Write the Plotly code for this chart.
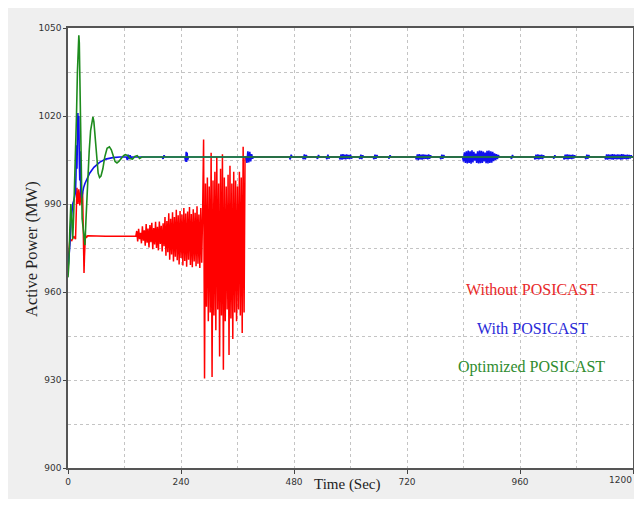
import plotly.graph_objects as go

# ---------------- data ----------------
# Without POSICAST (red)
red_t_start = [0, 4, 8, 12, 16, 18, 19, 21, 23, 25, 27, 29, 31, 32, 33, 34, 35, 37, 39, 42, 80, 120, 144]
red_v_start = [970, 978, 977.5, 979, 978, 990, 995.5, 990, 995, 989.5, 994.5, 990, 994, 985, 975, 966.5,
               972, 979.5, 978.5, 979.2, 979, 979, 979]
# growing oscillation, sampled every 2 s from t = 146 s
red_osc1_t0 = 146
red_osc1 = [980.8, 977.2, 981.5, 978, 980.2, 976.6, 982.4, 977.5, 981, 975.8, 983.2, 976.8, 981.6,
            975.2, 982.8, 977, 983.6, 974.6, 981.8, 976.2, 983.9, 975, 982.2, 974.2, 984, 976.4,
            982.6, 973.8, 983.4, 975.6, 985.6, 972.4, 984.2, 973.6, 986.8, 971, 985, 972.8, 987.2,
            970.4, 985.6, 972, 988, 970.8, 986.2, 969.4, 987.6, 971.6, 986.4, 969, 988.6, 970.6,
            986.8, 968.6, 987.4, 971, 989, 969.2, 986.6, 968.4, 988.2, 970.4, 987, 968.8, 989.2,
            969.6, 986.4, 968.2, 988.6, 970, 987.8]
# large oscillation, sampled every 2 s from t = 288 s
red_osc2_t0 = 288
red_osc2 = [1012, 930.5, 997, 955, 999, 950, 996, 953, 1007.5, 931, 998, 952, 1001, 947, 1006, 954,
            997, 938, 1002, 952, 1007, 933.5, 999, 950, 996, 954, 1000, 938.5, 1003, 951, 997, 944,
            1001, 953, 998, 950, 996, 954, 1001, 952, 999, 946, 1009.5, 953]
red_t_end = [376, 1200]
red_v_end = [1006, 1006]

# With POSICAST (blue)
blue_t = [0, 2, 4, 6, 8, 10, 12, 14, 16, 17, 18, 19, 20, 21, 22, 23, 24, 25, 26, 27, 29, 31, 33, 36,
          40, 46, 55, 67, 80, 95, 110, 124, 126, 128, 130, 132, 134, 136, 200, 202, 204, 206, 248,
          250, 251, 252, 253, 254, 256, 378, 380, 382, 384, 386, 388, 390, 392, 394,
          470, 472, 474, 476, 498, 500, 502, 504, 506, 508, 528, 530, 532, 534,
          548, 550, 552, 554, 556, 576, 578, 580, 582, 584, 586, 588, 590, 592, 594, 596, 598, 600,
          602, 604, 618, 620, 622, 624, 626, 628, 648, 650, 652, 654, 656, 658, 680, 682, 684, 686,
          738, 740, 742, 744, 746, 748, 750, 752, 754, 756, 758, 760, 762, 764, 766, 768, 770, 772,
          790, 792, 794, 796, 798, 800,
          838, 840, 842, 844, 846, 848, 850, 852, 854, 856, 858, 860, 862, 864, 866, 868, 870, 872,
          874, 876, 878, 880, 882, 884, 886, 888, 890, 892, 894, 896, 898, 900, 902, 904, 906, 908,
          910, 912, 914, 916, 940, 942, 944, 946,
          990, 992, 994, 996, 998, 1000, 1002, 1004, 1006, 1008, 1010, 1012, 1030, 1032, 1034, 1036,
          1052, 1054, 1056, 1058, 1060, 1062, 1064, 1066, 1068, 1070, 1072, 1074, 1076, 1078,
          1098, 1100, 1102, 1104, 1106, 1108,
          1140, 1142, 1144, 1146, 1148, 1150, 1152, 1154, 1156, 1158, 1160, 1162, 1164, 1166, 1168,
          1170, 1172, 1174, 1176, 1178, 1180, 1182, 1184, 1186, 1188, 1190, 1192, 1194, 1196, 1198,
          1200]
blue_v = [968, 971, 976, 983, 988, 990, 991, 992.5, 994, 1000, 1010, 1002, 1016, 1021, 1012, 1020,
          1005, 998, 1008, 995, 992, 994, 995.5, 997,
          998.5, 1000.5, 1002.5, 1004.2, 1005.3, 1005.8, 1006, 1006, 1005, 1006.8, 1005.3, 1006.6,
          1005.6, 1006, 1006, 1005.4, 1006.6, 1006, 1006,
          1004.5, 1007.8, 1004.3, 1007.5, 1005, 1006, 1006, 1004, 1008, 1004.2, 1007.8, 1004.5,
          1007, 1005.5, 1006,
          1006, 1005.2, 1006.8, 1006, 1006, 1005.3, 1006.9, 1005.2, 1006.7, 1006, 1006, 1005.4,
          1006.7, 1006,
          1006, 1005.3, 1006.8, 1005.5, 1006, 1006, 1005.2, 1006.9, 1005.1, 1007, 1005.3, 1006.8,
          1005.2, 1006.9, 1005.4, 1006.7, 1005.3, 1006.8,
          1005.5, 1006, 1006, 1005.4, 1006.8, 1005.3, 1006.6, 1006, 1006, 1005.3, 1006.8, 1005.4,
          1006.7, 1006, 1006, 1005.5, 1006.6, 1006,
          1006, 1005.2, 1006.9, 1005, 1007, 1005.2, 1006.8, 1005.1, 1006.9, 1005.3, 1006.8, 1005.4,
          1006.7, 1005.2, 1006.9, 1005.4, 1006.6, 1006,
          1006, 1005.3, 1006.8, 1005.4, 1006.7, 1006,
          1006, 1004.5, 1007.6, 1004, 1008, 1003.8, 1008.2, 1004, 1008, 1003.7, 1008.3, 1004.2,
          1007.8, 1004.8, 1007.2, 1004, 1008, 1003.8,
          1008.2, 1003.9, 1008.1, 1004, 1007.9, 1004.5, 1007.5, 1003.9, 1008.1, 1003.8, 1008.2,
          1004, 1008, 1004.1, 1007.8, 1004.6, 1007.3, 1005,
          1007, 1005.3, 1006.7, 1006, 1006, 1005.4, 1006.7, 1006,
          1006, 1005.2, 1006.8, 1005.3, 1006.9, 1005.2, 1006.7, 1005.4, 1006.8, 1005.3, 1006.6,
          1006, 1006, 1005.5, 1006.6, 1006,
          1006, 1005.2, 1006.8, 1005.3, 1006.9, 1005.2, 1006.8, 1005.4, 1006.7, 1005.3, 1006.8,
          1005.5, 1006.6, 1006,
          1006, 1005.3, 1006.8, 1005.4, 1006.7, 1006,
          1006, 1005.2, 1006.9, 1005.1, 1006.9, 1005.3, 1006.8, 1005.2, 1007, 1005.1, 1006.9,
          1005.3, 1006.8, 1005.2, 1006.9,
          1005.3, 1006.8, 1005.1, 1007, 1005.2, 1006.9, 1005.4, 1006.7, 1005.2, 1006.8, 1005.3,
          1006.7, 1005.5, 1006.6, 1006,
          1006]

# Optimized POSICAST (green)
green_t = [0, 2, 4, 6, 8, 10, 12, 14, 16, 18, 20, 22, 23, 24, 25, 26, 27, 28, 30, 32, 34, 36, 38,
           40, 42, 45, 48, 51, 53, 55, 58, 61, 64, 67, 70, 74, 78, 83, 88, 92, 96, 100, 104, 108,
           113, 118, 122, 127, 132, 137, 142, 147, 152, 157, 165, 1200]
green_v = [965, 970, 982, 990, 985, 978, 986, 995, 1005, 1020, 1035, 1044, 1047.5, 1045, 1035,
           1020, 1005, 992, 985, 982, 978, 976, 984, 992, 1000, 1008, 1015, 1019, 1019.7, 1018,
           1012, 1005, 1000.5, 999, 999.5, 1002, 1006, 1009, 1009.5, 1008.5, 1006.5, 1004.5, 1004,
           1004.5, 1005.5, 1006.5, 1006.8, 1006.5, 1005.5, 1005.3, 1006.2, 1006.5, 1005.5, 1006,
           1006, 1006]

series_names = ["Without POSICAST", "With POSICAST", "Optimized POSICAST"]
x_ticks = [0, 240, 480, 720, 960, 1200]
x_ticktext = ["0", "240", "480", "720", "960", ""]   # last label drawn shifted inside below
y_ticks = [900, 930, 960, 990, 1020, 1050]

# ---------------- assemble ----------------
red_t = (red_t_start
         + [red_osc1_t0 + 2 * i for i in range(len(red_osc1))]
         + [red_osc2_t0 + 2 * i for i in range(len(red_osc2))]
         + red_t_end)
red_v = red_v_start + red_osc1 + red_osc2 + red_v_end

RED, BLUE, GREEN = "#ff0000", "#1010ee", "#1e8c1e"

fig = go.Figure()
fig.add_trace(go.Scatter(x=red_t, y=red_v, mode="lines", name=series_names[0],
                         line=dict(color=RED, width=1.5), hoverinfo="skip"))
fig.add_trace(go.Scatter(x=blue_t, y=blue_v, mode="lines", name=series_names[1],
                         line=dict(color=BLUE, width=1.6), hoverinfo="skip"))
fig.add_trace(go.Scatter(x=green_t, y=green_v, mode="lines", name=series_names[2],
                         line=dict(color=GREEN, width=1.6), hoverinfo="skip"))

# page body has an 8px margin: figure pixel = screen pixel - 8
OFF = 8
W, H = 626, 491          # figure fully inside the visible window
L, T = 68 - OFF, 28 - OFF
pw, ph = 565, 440
R, B = W - L - pw, H - T - ph


def px(xs):
    return (xs - OFF - L) / pw


def py(ys):
    return (T + ph - (ys - OFF)) / ph


tickfont = dict(family="DejaVu Sans", size=9, color="#333333")
grid = dict(gridcolor="#c4c4c4", griddash="dot", gridwidth=1)
fig.update_xaxes(range=[0, 1200], tickvals=x_ticks, ticktext=x_ticktext, showgrid=True, **grid,
                 minor=dict(dtick=120, tick0=0, showgrid=True, ticks="", **grid),
                 showline=True, linecolor="#555555", linewidth=1.5, mirror=True,
                 ticks="outside", ticklen=4, tickcolor="#444444", tickfont=tickfont,
                 zeroline=False, automargin=False)
fig.update_yaxes(range=[900, 1050], tickvals=y_ticks, showgrid=True, **grid,
                 minor=dict(dtick=15, tick0=900, showgrid=True, ticks="", **grid),
                 showline=True, linecolor="#555555", linewidth=1.5, mirror=True,
                 ticks="outside", ticklen=3, tickcolor="#444444", tickfont=tickfont,
                 zeroline=False, automargin=False)

serif = "Liberation Serif"
annos = [
    dict(text="Active Power (MW)", x=px(32), y=py(249), textangle=-90,
         font=dict(family=serif, size=16.5, color="#222222")),
    dict(text="Time (Sec)", x=px(347), y=py(484),
         font=dict(family=serif, size=15, color="#222222")),
    dict(text=series_names[0], x=px(532), y=py(289), font=dict(family=serif, size=16, color="#e82a2a")),
    dict(text=series_names[1], x=px(532), y=py(328), font=dict(family=serif, size=16, color="#2a2ad8")),
    dict(text=series_names[2], x=px(531), y=py(367), font=dict(family=serif, size=16, color="#2e8b2e")),
]
for a in annos:
    a.update(xref="paper", yref="paper", showarrow=False, xanchor="center", yanchor="middle")
# end tick label of the time axis, kept inside the window
annos.append(dict(text=str(x_ticks[-1]), xref="x", yref="paper", x=x_ticks[-1], y=py(480),
                  xanchor="right", yanchor="middle", xshift=1, showarrow=False, font=tickfont))

fig.update_layout(width=W, height=H, margin=dict(l=L, r=R, t=T, b=B),
                  paper_bgcolor="#efefef", plot_bgcolor="white",
                  showlegend=False, annotations=annos)

fig.write_html("out.html")
